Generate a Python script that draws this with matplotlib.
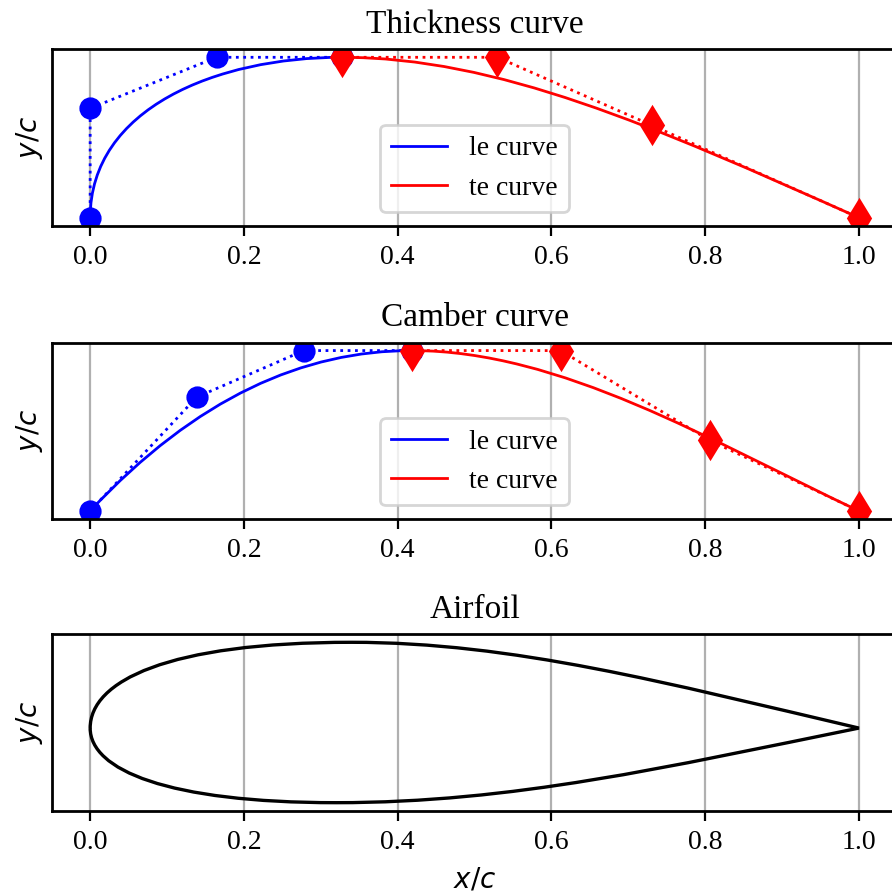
import matplotlib
matplotlib.use("Agg")
import matplotlib.pyplot as plt
from matplotlib.lines import Line2D
from matplotlib.path import Path
from matplotlib.patches import PathPatch

# Thickness curve control points (leading edge / trailing edge)
thick_le_x = [0.0, 0.0, 0.1645, 0.3271]
thick_le_y = [0.0, 0.0409, 0.06, 0.06]
thick_te_x = [0.3271, 0.5297, 0.7303, 1.0]
thick_te_y = [0.06, 0.06, 0.0346, 0.0]

# Camber curve control points
camb_le_x = [0.0, 0.1385, 0.278, 0.419]
camb_le_y = [0.0, 0.00305, 0.0043, 0.0043]
camb_te_x = [0.419, 0.612, 0.806, 1.0]
camb_te_y = [0.0043, 0.0043, 0.00189, 0.0]

# Airfoil outline as cubic bezier segments: LE -> upper -> TE -> lower -> LE
foil_x = [0.0, 0.0, 0.10, 0.34, 0.55, 0.75, 1.0,
          0.75, 0.55, 0.32, 0.10, 0.0, 0.0]
foil_y = [0.0, 0.0353, 0.0645, 0.0645, 0.0645, 0.0338, 0.0,
          -0.0293, -0.0561, -0.0561, -0.0561, -0.0315, 0.0]

plt.rcParams["font.family"] = "serif"
plt.rcParams["font.serif"] = ["Liberation Serif"]
plt.rcParams["font.size"] = 10


def bezier_patch(xs, ys, color, lw):
    """Cubic bezier curves drawn by matplotlib's own path machinery."""
    verts = list(zip(xs, ys))
    codes = [Path.MOVETO] + [Path.CURVE4] * (len(verts) - 1)
    return PathPatch(Path(verts, codes), facecolor="none", edgecolor=color, lw=lw)


def curve_panel(ax, title, le_x, le_y, te_x, te_y):
    # control polygons
    ax.plot(le_x, le_y, ":", color="blue", lw=1.0, marker="o", ms=7)
    ax.add_patch(bezier_patch(le_x, le_y, "blue", 1.0))
    ax.plot(te_x, te_y, ":", color="red", lw=1.0, marker="d", ms=9)
    ax.add_patch(bezier_patch(te_x, te_y, "red", 1.0))

    handles = [Line2D([], [], color="blue", lw=1.0),
               Line2D([], [], color="red", lw=1.0)]
    ax.legend(handles, ["le curve", "te curve"], loc="lower center")
    ax.set_title(title)


def style(ax):
    ax.grid(axis="x")
    ax.set_axisbelow(True)
    ax.set_yticks([])
    ax.set_ylabel("$y/c$", labelpad=2.5)
    for s in ax.spines.values():
        s.set_linewidth(1.0)


fig = plt.figure(figsize=(4.46, 4.48), dpi=200)

ax1 = fig.add_axes([0.058, 0.7481, 0.948, 0.1969])
ax2 = fig.add_axes([0.058, 0.4208, 0.948, 0.1969])
ax3 = fig.add_axes([0.058, 0.0952, 0.948, 0.1969])

curve_panel(ax1, "Thickness curve", thick_le_x, thick_le_y, thick_te_x, thick_te_y)
curve_panel(ax2, "Camber curve", camb_le_x, camb_le_y, camb_te_x, camb_te_y)

ax3.add_patch(bezier_patch(foil_x, foil_y, "black", 1.2))
ax3.autoscale_view()
ax3.set_title("Airfoil")
ax3.set_xlabel("$x/c$")

for ax in (ax1, ax2, ax3):
    style(ax)
    ax.set_xlim(-0.05, 1.05)

fig.savefig("out.png", dpi=200)
